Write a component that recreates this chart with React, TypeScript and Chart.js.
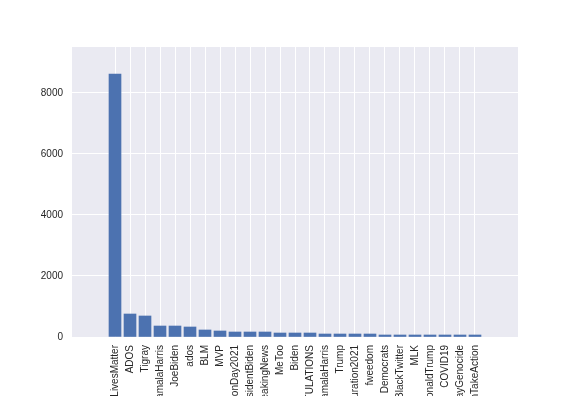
import React, { useEffect, useRef } from "react";
import { Chart, registerables } from "chart.js";

Chart.register(...registerables);

const categories = [
  "BlackLivesMatter", "ADOS", "Tigray", "KamalaHarris", "JoeBiden", "ados", "BLM", "MVP",
  "InaugurationDay2021", "PresidentBiden", "BreakingNews", "MeToo", "Biden", "CONGRATULATIONS",
  "VPKamalaHarris", "Trump", "Inauguration2021", "fweedom", "Democrats", "BlackTwitter", "MLK",
  "DonaldTrump", "COVID19", "TigrayGenocide", "AmericanTakeAction",
];
const counts = [
  8620, 754, 689, 360, 360, 328, 230, 197, 164, 164, 164, 131, 131, 131, 98, 98, 98, 98,
  66, 66, 66, 66, 66, 66, 66,
];
const yTicks = [0, 2000, 4000, 6000, 8000];

export default function App() {
  const ref = useRef<HTMLCanvasElement | null>(null);
  useEffect(() => {
    const canvas = ref.current!;
    const bg = {
      id: "bg",
      beforeDraw(chart: any) {
        const { ctx, chartArea: a } = chart;
        ctx.save();
        ctx.fillStyle = "#ffffff";
        ctx.fillRect(0, 0, chart.width, chart.height);
        ctx.fillStyle = "#EAEAF2";
        ctx.fillRect(a.left, a.top, a.right - a.left, a.bottom - a.top);
        ctx.restore();
      },
    };
    const chart = new Chart(canvas, {
      type: "bar",
      data: {
        datasets: [
          {
            data: counts.map((v, i) => ({ x: i, y: v })),
            backgroundColor: "#4C72B0",
            barThickness: 12,
          },
        ],
      },
      options: {
        animation: false,
        responsive: false,
        devicePixelRatio: 1,
        layout: { padding: { top: 47, right: 58, left: 0, bottom: 0 } },
        plugins: { legend: { display: false }, tooltip: { enabled: false } },
        scales: {
          x: {
            type: "linear",
            offset: false,
            min: -2.867,
            max: 26.867,
            afterBuildTicks: (s: any) => {
              s.ticks = categories.map((_, i) => ({ value: i }));
            },
            afterFit: (s: any) => {
              s.height = 59;
            },
            grid: { color: "#ffffff", lineWidth: 1, drawTicks: false, offset: false },
            border: { display: false },
            ticks: {
              autoSkip: false,
              minRotation: 90,
              maxRotation: 90,
              padding: 8,
              color: "#262626",
              font: { family: "'Liberation Sans', Arial, sans-serif", size: 10 },
              callback: (v: any) => categories[v] ?? "",
            },
          },
          y: {
            min: 0,
            max: 9508,
            afterBuildTicks: (s: any) => {
              s.ticks = yTicks.map((v) => ({ value: v }));
            },
            afterFit: (s: any) => {
              s.width = 72;
            },
            grid: { color: "#ffffff", lineWidth: 1, drawTicks: false },
            border: { display: false },
            ticks: {
              padding: 9,
              color: "#262626",
              font: { family: "'Liberation Sans', Arial, sans-serif", size: 10 },
              callback: (v: any) => String(v),
            },
          },
        },
      },
      plugins: [bg],
    } as any);
    return () => chart.destroy();
  }, []);
  return (
    <div style={{ position: "fixed", left: 0, top: 0, width: 576, height: 396 }}>
      <canvas ref={ref} width={576} height={396} style={{ width: 576, height: 396 }} />
    </div>
  );
}
